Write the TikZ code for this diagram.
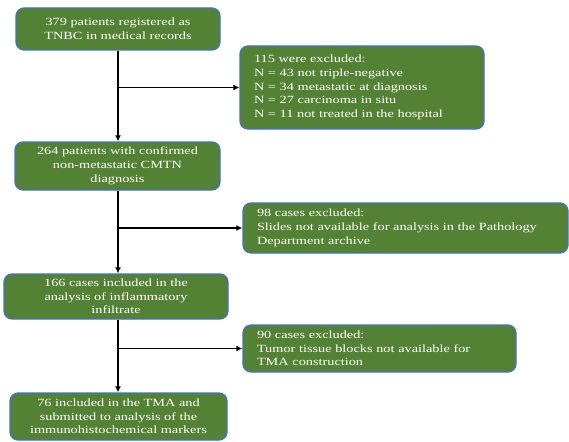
\documentclass[tikz,border=0pt]{standalone}
\usepackage{fontspec}
\setmainfont{Liberation Serif}[FakeStretch=1.3]
\usepackage{xcolor}
\usetikzlibrary{positioning,arrows.meta,calc}
\definecolor{flowgreen}{HTML}{548235}
\definecolor{flowblue}{HTML}{4472C4}

\begin{document}
\begin{tikzpicture}[
    x=1pt, y=-1pt,
    stage/.style={draw=flowblue, line width=1.3pt, rounded corners=8pt, fill=flowgreen,
                  text=white, align=center, inner sep=0pt,
                  font=\fontsize{11}{13.7}\selectfont},
    excl/.style={stage, align=left, inner xsep=14pt},
    flow/.style={line width=1.8pt, -{Latex[length=6pt,width=6pt]}},
]
\useasboundingbox (0,0) rectangle (569,441);
\node[stage, minimum width=204pt, minimum height=42pt] (b1) at (118,29)
    {379 patients registered as\\TNBC in medical records};
\node[excl, minimum width=244pt, minimum height=83pt, text width=216pt] (e1) at (362,87.5)
    {115 were excluded:\\N = 43 not triple-negative\\N = 34 metastatic at diagnosis\\N = 27 carcinoma in situ\\N = 11 not treated in the hospital\\[3pt]};
\node[stage, minimum width=205pt, minimum height=48pt] (b2) at (117.5,166)
    {264 patients with confirmed\\non-metastatic CMTN\\diagnosis};
\node[excl, minimum width=325pt, minimum height=50pt, text width=297pt] (e2) at (405.5,228)
    {98 cases excluded:\\Slides not available for analysis in the Pathology\\Department archive};
\node[stage, minimum width=224pt, minimum height=45pt] (b3) at (116,296.5)
    {166 cases included in the\\analysis of inflammatory\\infiltrate};
\node[excl, minimum width=273pt, minimum height=47pt, text width=245pt] (e3) at (379.5,348.5)
    {90 cases excluded:\\Tumor tissue blocks not available for\\TMA construction};
\node[stage, minimum width=217pt, minimum height=47pt] (b4) at (118.5,416.5)
    {76 included in the TMA and\\submitted to analysis of the\\immunohistochemical markers};

\draw[flow] (b1.south) -- (b1.south |- b2.north);
\draw[flow] (b1.south |- e1.west) -- (e1.west);
\draw[flow] (b1.south |- b2.south) -- (b1.south |- b3.north);
\draw[flow] (b1.south |- e2.west) -- (e2.west);
\draw[flow] (b1.south |- b3.south) -- (b1.south |- b4.north);
\draw[flow] (b1.south |- e3.west) -- (e3.west);
\end{tikzpicture}
\end{document}
